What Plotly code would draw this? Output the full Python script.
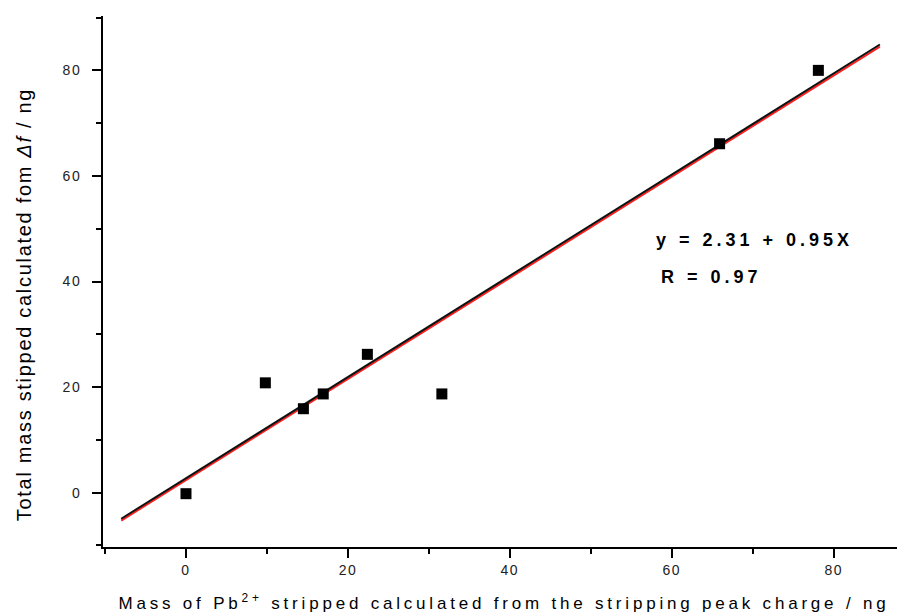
import plotly.graph_objects as go

# data
mass_charge = [0.0, 9.8, 14.5, 16.95, 22.4, 31.6, 65.9, 78.1]
mass_freq = [-0.2, 20.8, 15.9, 18.7, 26.2, 18.7, 66.1, 80.0]
fit_x = [-8.0, 85.7]
fit_y_black = [-4.95, 84.9]
fit_y_red = [-5.3, 84.5]
x_ticks = [0, 20, 40, 60, 80]
y_ticks = [0, 20, 40, 60, 80]

fig = go.Figure()
fig.add_trace(go.Scatter(x=fit_x, y=fit_y_red, mode="lines",
                         line=dict(color="#ff2020", width=2), hoverinfo="skip"))
fig.add_trace(go.Scatter(x=fit_x, y=fit_y_black, mode="lines",
                         line=dict(color="#111111", width=2), hoverinfo="skip"))
fig.add_trace(go.Scatter(x=mass_charge, y=mass_freq, mode="markers",
                         marker=dict(symbol="square", size=11, color="black")))

fig.add_annotation(x=61.7, y=47.8, text="<b>y = 2.31 + 0.95X</b>", showarrow=False,
                   xanchor="left", yanchor="middle",
                   font=dict(family="Liberation Sans, Arial", size=18, color="black"))
fig.add_annotation(x=60.4, y=40.8, text="<b>R = 0.97</b>", showarrow=False,
                   xanchor="left", yanchor="middle",
                   font=dict(family="Liberation Sans, Arial", size=18, color="black"))
# y-axis title (placed as a rotated annotation so it can sit lower, as in the reference)
fig.add_annotation(xref="paper", yref="paper", x=0, y=0.457, xshift=-79,
                   text="Total mass stipped calculated fom <i>Δf</i> / ng",
                   textangle=-90, showarrow=False, xanchor="center", yanchor="middle",
                   font=dict(family="Liberation Sans, Arial", size=20, color="black"))

axis_common = dict(showgrid=False, zeroline=False, showline=True, linecolor="black",
                   linewidth=2, ticks="outside", ticklen=9, tickwidth=2, tickcolor="black",
                   tickfont=dict(family="Liberation Sans, Arial", size=14, color="#222222"),
                   minor=dict(ticks="outside", ticklen=5, tickwidth=2, tickcolor="black", dtick=10),
                   mirror=False, automargin=False)

fig.update_xaxes(range=[-10.25, 88.8], tickvals=x_ticks, **axis_common,
                 title=dict(text="Mass of Pb<sup>2+</sup> stripped calculated from the stripping peak charge / ng",
                            font=dict(family="Liberation Sans, Arial", size=17, color="black"),
                            standoff=20))
fig.update_yaxes(range=[-10.3, 90.3], tickvals=y_ticks, ticklabelstandoff=8, **axis_common)

# the page body adds an 8px offset, so the figure is sized to fit the window
fig.update_layout(width=897, height=607, showlegend=False,
                  plot_bgcolor="white", paper_bgcolor="white",
                  margin=dict(l=95, r=0, t=8, b=68))

post = """
var gd = document.getElementById('{plot_id}');
function spacing(){
  var t = gd.querySelector('.xtitle');
  if (t) { t.style.letterSpacing = '3.8px'; }
  gd.querySelectorAll('.annotation-text').forEach(function(a){
    if (a.textContent.indexOf('Total') === 0) { a.style.letterSpacing = '1.7px'; }
    else { a.style.letterSpacing = '4px'; }
  });
  gd.querySelectorAll('.xtick text, .ytick text').forEach(function(a){ a.style.letterSpacing = '1.5px'; });
}
spacing();
gd.on('plotly_afterplot', spacing);
"""
fig.write_html("out.html", post_script=post)
